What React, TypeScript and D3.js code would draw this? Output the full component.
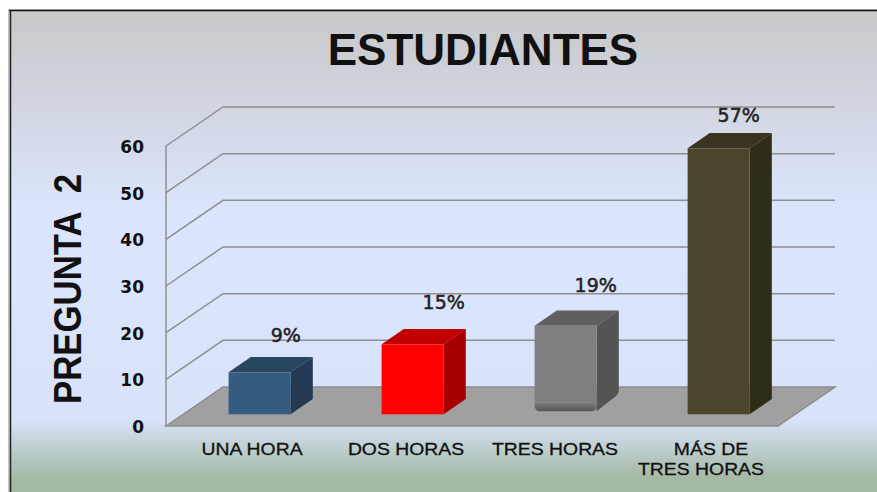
import React from "react";
import * as d3 from "d3";

const categories = ["UNA HORA", "DOS HORAS", "TRES HORAS", "MÁS DE|TRES HORAS"];
const values = [9, 15, 19, 57];
const valueLabels = ["9%", "15%", "19%", "57%"];
const yTicks = [0, 10, 20, 30, 40, 50, 60];
const frontColors = ["#355b80", "#ff0000", "#7f7f7f", "#4b452c"];
const topColors = ["#284660", "#c00000", "#5f5f5f", "#38341f"];
const sideColors = ["#233a52", "#a80000", "#545454", "#2f2c1a"];

const WIDTH = 877;
const HEIGHT = 492;

// depth of the 3d box, in px
const depthX = 57;
const depthY = 39;
const barShift = 0.3; // how far into the floor the bars stand
const barDepth = 0.39;

const x = d3.scaleBand<string>()
    .domain(categories)
    .range([166, 778])
    .paddingInner(0.595)
    .paddingOuter(0.2975);

const y = d3.scaleLinear().domain([0, 60]).range([426, 146]);

// nudges for the labels, they don't sit in one line in the original
const labelDy = [-43, -48, -47, -39];
const labelDx = [15, 20, 19, 9];
const catDx = [[9.5], [10.5], [6.5], [9.5, -0.5]];

export default function App() {
    const x0 = x.range()[0];
    const x1 = x.range()[1];
    const baseY = y(0);

    return (
        <svg
            width={WIDTH}
            height={HEIGHT}
            style={{position: "absolute", left: 0, top: 0}}
            fontFamily="Liberation Sans, Arial, sans-serif"
        >
            <defs>
                <linearGradient id="bg" gradientUnits="userSpaceOnUse" x1="0" y1="10" x2="0" y2="492">
                    <stop offset="0" stopColor="#c8c8c8" />
                    <stop offset="0.42" stopColor="#dbe5fd" />
                    <stop offset="0.85" stopColor="#d8e3f9" />
                    <stop offset="0.97" stopColor="#a5b9a5" />
                    <stop offset="1" stopColor="#a5b9a5" />
                </linearGradient>
                <linearGradient id="bottomShade" x1="0" y1="0" x2="0" y2="1">
                    <stop offset="0" stopColor="#7f7f7f" />
                    <stop offset="1" stopColor="#555555" />
                </linearGradient>
            </defs>

            <rect x={0} y={0} width={WIDTH} height={HEIGHT} fill="#ffffff" />
            <rect x={8} y={9} width={WIDTH - 8} height={HEIGHT - 9} fill="#c4c4c4" />
            <rect x={10} y={10} width={WIDTH - 10} height={HEIGHT - 10} fill="url(#bg)" />
            <line x1={9} x2={WIDTH} y1={10.5} y2={10.5} stroke="#111111" strokeWidth={1.5} />
            <line x1={10.5} x2={10.5} y1={10} y2={HEIGHT} stroke="#222222" strokeWidth={1.5} />

            <text x={483} y={65} textAnchor="middle" fontSize={44} fontWeight="bold" fill="#111111">
                ESTUDIANTES
            </text>

            <text
                transform="translate(81,404) rotate(-90)"
                fontSize={39}
                fontWeight="bold"
                fill="#111111"
                textLength={230}
                lengthAdjust="spacingAndGlyphs"
                xmlSpace="preserve"
            >
                PREGUNTA  2
            </text>

            {/* floor */}
            <path
                d={`M${x0},${baseY}L${x0 + depthX},${baseY - depthY}L${x1 + depthX},${baseY - depthY}L${x1},${baseY}Z`}
                fill="#a0a0a0"
                stroke="#8c8c8c"
                strokeWidth={1.5}
            />

            {/* walls: one bent line per tick */}
            {yTicks.filter(t => t > 0).map(t => (
                <path
                    key={t}
                    d={`M${x0},${y(t)}L${x0 + depthX},${y(t) - depthY}L${x1 + depthX},${y(t) - depthY}`}
                    fill="none"
                    stroke="#8f8f8f"
                    strokeWidth={1.5}
                />
            ))}
            <line x1={x0} x2={x0} y1={y(60)} y2={baseY} stroke="#8f8f8f" strokeWidth={1.5} />

            {yTicks.map(t => (
                <text
                    key={t}
                    x={144}
                    y={y(t) + 7}
                    textAnchor="end"
                    fontSize={17}
                    fontWeight="bold"
                    fill="#111111"
                    fontFamily="DejaVu Sans, sans-serif"
                >
                    {t}
                </text>
            ))}

            {categories.map((c, i) => {
                const bx = x(c)! + depthX * barShift;
                const w = x.bandwidth();
                const by = baseY - depthY * barShift;
                const h = baseY - y(values[i]);
                const dx = depthX * barDepth;
                const dy = depthY * barDepth;
                const lines = c.split("|");
                const rounded = i === 2;
                return (
                    <g key={c}>
                        <path
                            d={`M${bx},${by - h}L${bx + dx},${by - h - dy}L${bx + w + dx},${by - h - dy}L${bx + w},${by - h}Z`}
                            fill={topColors[i]}
                        />
                        {rounded ? (
                            <path
                                d={`M${bx + w},${by - h}L${bx + w + dx},${by - h - dy}L${bx + w + dx},${by - dy - 9}Q${bx + w + dx},${by - dy - 5} ${bx + w + dx - 4},${by - dy - 2}L${bx + w},${by - 3}Z`}
                                fill={sideColors[i]}
                            />
                        ) : (
                            <path
                                d={`M${bx + w},${by - h}L${bx + w + dx},${by - h - dy}L${bx + w + dx},${by - dy}L${bx + w},${by}Z`}
                                fill={sideColors[i]}
                            />
                        )}
                        {rounded ? (
                            <>
                                <rect x={bx} y={by - h} width={w} height={h - 12} fill={frontColors[i]} />
                                <path
                                    d={`M${bx},${by - 12}L${bx + w},${by - 12}L${bx + w},${by - 8}Q${bx + w},${by - 3} ${bx + w - 6},${by - 3}L${bx + 6},${by - 3}Q${bx},${by - 3} ${bx},${by - 9}Z`}
                                    fill="url(#bottomShade)"
                                />
                            </>
                        ) : (
                            <rect x={bx} y={by - h} width={w} height={h} fill={frontColors[i]} />
                        )}
                        <text
                            x={bx + w / 2 + dx / 2 + labelDx[i]}
                            y={by - h + labelDy[i] + 13}
                            textAnchor="middle"
                            fontSize={19}
                            fill="#222222"
                            stroke="#222222"
                            strokeWidth={0.5}
                            fontFamily="DejaVu Sans, sans-serif"
                        >
                            {valueLabels[i]}
                        </text>
                        {lines.map((line, j) => (
                            <text
                                key={line}
                                transform={`translate(${x(c)! + w / 2 + catDx[i][j]},${455 + j * 20}) scale(1.14,1)`}
                                textAnchor="middle"
                                fontSize={17}
                                fill="#111111"
                                stroke="#111111"
                                strokeWidth={0.3}
                            >
                                {line}
                            </text>
                        ))}
                    </g>
                );
            })}
        </svg>
    );
}
